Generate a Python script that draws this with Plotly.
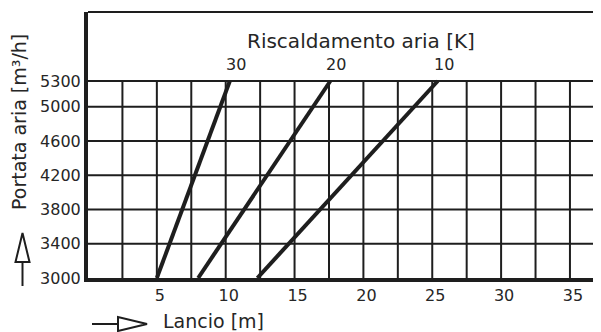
import plotly.graph_objects as go

# ---- data ----
heating_K = [30, 20, 10]                 # Riscaldamento aria (K)
throw_at_min_flow = [5.0, 8.0, 12.3]     # Lancio (m) at 3000 m3/h
throw_at_max_flow = [10.3, 17.6, 25.4]   # Lancio (m) at 5300 m3/h
flow = [3000, 5300]                      # Portata aria (m3/h)

y_ticks = [3000, 3400, 3800, 4200, 4600, 5000, 5300]
x_ticks = [5, 10, 15, 20, 25, 30, 35]
x_grid = [2.5, 5, 7.5, 10, 12.5, 15, 17.5, 20, 22.5, 25, 27.5, 30, 32.5, 35]

OFF = 8  # page body margin
W, H = 601 - OFF, 332 - OFF
L, R, T, B = 88 - OFF, 0, 12 - OFF, 54
FONT = "DejaVu Sans"
INK = "#1e1e1e"
TXT = "#262626"

fig = go.Figure()

for k, x0, x1 in zip(heating_K, throw_at_min_flow, throw_at_max_flow):
    fig.add_trace(go.Scatter(x=[x0, x1], y=flow, mode="lines",
                             line=dict(color=INK, width=4), showlegend=False,
                             hoverinfo="skip"))
    fig.add_annotation(x=x1, y=flow[1], text=str(k), showarrow=False,
                       xanchor="center", yanchor="bottom", xshift=6, yshift=5,
                       font=dict(family=FONT, size=16, color=TXT))

ymax_grid = max(y_ticks)
for gx in x_grid:
    fig.add_shape(type="line", xref="x", yref="y", x0=gx, x1=gx,
                  y0=min(y_ticks), y1=ymax_grid,
                  line=dict(color=INK, width=2), layer="below")
for gy in y_ticks[1:]:
    fig.add_shape(type="line", xref="paper", yref="y", x0=0, x1=1,
                  y0=gy, y1=gy, line=dict(color=INK, width=2), layer="below")

pw, ph = W - L - R, H - T - B
def px(x):  # reference-picture pixel -> paper
    return (x - OFF - L) / pw
def py(y):
    return (H - B - (y - OFF)) / ph

fig.add_shape(type="line", xref="paper", yref="paper", x0=0, x1=1, y0=1, y1=1,
              line=dict(color=INK, width=2))

# y arrow (up)
fig.add_shape(type="line", xref="paper", yref="paper",
              x0=px(22.5), x1=px(22.5), y0=py(286), y1=py(262),
              line=dict(color=INK, width=2))
fig.add_shape(type="path", xref="paper", yref="paper",
              path=f"M {px(15.5)} {py(262)} L {px(29.5)} {py(262)} L {px(22.5)} {py(233)} Z",
              line=dict(color=INK, width=2), fillcolor="white")
# x arrow (right)
fig.add_shape(type="line", xref="paper", yref="paper",
              x0=px(92), x1=px(118), y0=py(324), y1=py(324),
              line=dict(color=INK, width=2))
fig.add_shape(type="path", xref="paper", yref="paper",
              path=f"M {px(118)} {py(317)} L {px(118)} {py(331)} L {px(147)} {py(324)} Z",
              line=dict(color=INK, width=2), fillcolor="white")

fig.add_annotation(xref="paper", yref="paper", x=px(361), y=py(41),
                   text="Riscaldamento aria [K]", showarrow=False,
                   xanchor="center", yanchor="middle",
                   font=dict(family=FONT, size=20, color=TXT))
fig.add_annotation(xref="paper", yref="paper", x=px(161), y=py(321),
                   text="Lancio [m]", showarrow=False,
                   xanchor="left", yanchor="middle",
                   font=dict(family=FONT, size=19, color=TXT))
fig.add_annotation(xref="paper", yref="paper", x=px(19), y=py(122),
                   text="Portata aria [m³/h]", showarrow=False, textangle=-90,
                   xanchor="center", yanchor="middle",
                   font=dict(family=FONT, size=19, color=TXT))

xr = pw / 13.77
yr = 3000 + ph / 0.08565
fig.update_xaxes(range=[0, xr], tickvals=x_ticks, ticktext=[str(v) for v in x_ticks],
                 showgrid=False, zeroline=False, showline=True,
                 linecolor=INK, linewidth=4, ticks="", ticklabelshift=3,
                 tickfont=dict(family=FONT, size=16, color=TXT))
fig.update_yaxes(range=[3000, yr], tickvals=y_ticks, ticktext=[str(v) for v in y_ticks],
                 showgrid=False, zeroline=False, showline=True,
                 linecolor=INK, linewidth=4, ticks="",
                 tickfont=dict(family=FONT, size=16, color=TXT))

fig.update_layout(width=W, height=H, margin=dict(l=L, r=R, t=T, b=B),
                  plot_bgcolor="white", paper_bgcolor="white", showlegend=False)

fig.write_html("out.html")
